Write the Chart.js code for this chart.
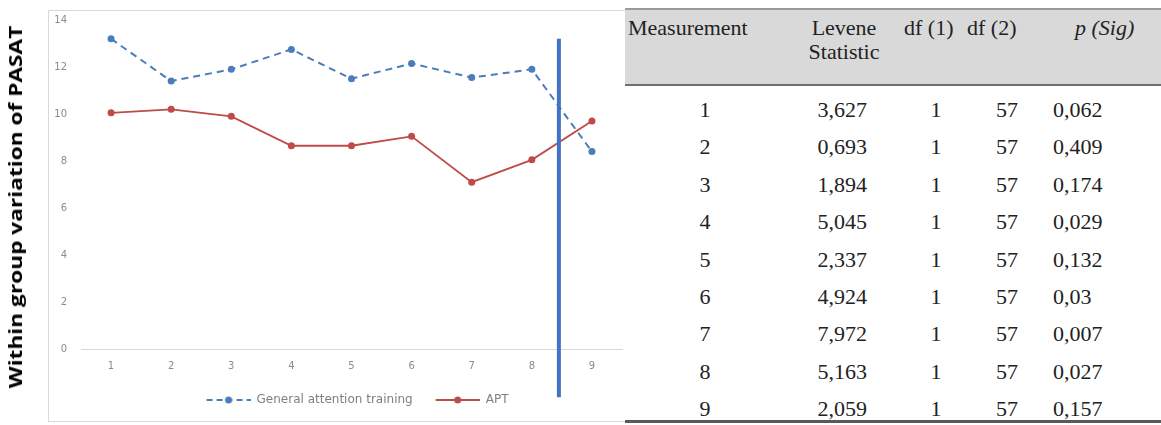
<!DOCTYPE html>
<html>
<head>
<meta charset="utf-8">
<script src="https://cdn.jsdelivr.net/npm/chart.js@4.4.0/dist/chart.umd.min.js"></script>
<style>
  html, body { margin: 0; padding: 0; background: #fff; }
  body { width: 1161px; height: 425px; position: relative; overflow: hidden; }
  #frame { position: absolute; left: 48px; top: 10px; width: 640px; height: 410px; border: 1px solid #d9d9d9; }
  #wrap { position: absolute; left: 0; top: 0; width: 626px; height: 425px; }
  #ytitle { position: absolute; left: 15px; top: 207px; transform: translate(-50%, -50%) rotate(-90deg) scaleX(1.26);
    white-space: nowrap; font: bold 18px "Open Sans", sans-serif; color: #000; }
  #tbl { position: absolute; left: 625px; top: 8px; width: 536px; height: 416px; background: #fff;
    font-family: "Liberation Serif", "Times New Roman", serif; font-size: 22px; color: #222; }
  #head { position: absolute; left: 0; top: 0; width: 100%; height: 74px; background: #d9d9d9;
    border-top: 2px solid #9a9a9a; border-bottom: 2px solid #6f6f6f; }
  #head div, .row div { position: absolute; line-height: 24px; }
  .row { position: absolute; left: 0; width: 100%; height: 37.4px; }
  #bottom { position: absolute; left: 0; top: 412px; width: 100%; height: 3px; background: #5a5a5a; }
</style>
</head>
<body>
<div id="frame"></div>
<div id="wrap"><canvas id="lineChart" width="626" height="425"></canvas></div>
<div id="ytitle">Within group variation of PASAT</div>
<div id="tbl">
  <div id="head">
    <div style="left:3px;top:6px">Measurement</div>
    <div style="left:180px;top:6px;text-align:center;width:78px">Levene<br>Statistic</div>
    <div style="left:279px;top:6px">df (1)</div>
    <div style="left:342px;top:6px">df (2)</div>
    <div style="left:450px;top:6px;font-style:italic">p (Sig)</div>
  </div>
  <div id="rows"></div>
  <div id="bottom"></div>
</div>

<script>
// ----------- Within group variation chart + Levene table -------------

var measurements = ["1", "2", "3", "4", "5", "6", "7", "8", "9"];
var generalAttention = [13.2, 11.4, 11.9, 12.75, 11.5, 12.15, 11.55, 11.9, 8.4];
var aptValues = [10.05, 10.2, 9.9, 8.65, 8.65, 9.05, 7.1, 8.05, 9.7];
var yTicks = [0, 2, 4, 6, 8, 10, 12, 14];

// vertical marker between measurement 8 and 9
var markerIndex = 7.45;
var markerTop = 13.2;
var markerBottom = -2.05;

// Levene table
var leveneStat = ["3,627", "0,693", "1,894", "5,045", "2,337", "4,924", "7,972", "5,163", "2,059"];
var df1 = ["1", "1", "1", "1", "1", "1", "1", "1", "1"];
var df2 = ["57", "57", "57", "57", "57", "57", "57", "57", "57"];
var pSig = ["0,062", "0,409", "0,174", "0,029", "0,132", "0,03", "0,007", "0,027", "0,157"];

var blue = "#4a7ebb";
var red = "#be4b48";

// build table rows
var rowsEl = document.getElementById('rows');
measurements.forEach(function (m, i) {
    var r = document.createElement('div');
    r.className = 'row';
    r.style.top = (80 + i * 37.4) + 'px';
    r.innerHTML =
        '<div style="left:60px;top:10px;width:40px;text-align:center">' + m + '</div>' +
        '<div style="left:160px;top:10px;width:82px;text-align:right">' + leveneStat[i] + '</div>' +
        '<div style="left:296px;top:10px;width:30px;text-align:center">' + df1[i] + '</div>' +
        '<div style="left:350px;top:10px;width:43px;text-align:right">' + df2[i] + '</div>' +
        '<div style="left:428px;top:10px">' + pSig[i] + '</div>';
    rowsEl.appendChild(r);
});

// legend symbol: line with a dot, like the spreadsheet legend (left margin = gap to previous item)
function legendSymbol(color, dashed) {
    var c = document.createElement('canvas');
    c.width = 56; c.height = 10;
    var g = c.getContext('2d');
    g.strokeStyle = color;
    g.lineWidth = 2;
    if (dashed) g.setLineDash([6, 4]);
    g.beginPath(); g.moveTo(12, 5); g.lineTo(56, 5); g.stroke();
    g.setLineDash([]);
    g.fillStyle = color;
    g.beginPath(); g.arc(34, 5, 3.5, 0, Math.PI * 2); g.fill();
    return c;
}

var markerLine = {
    id: 'markerLine',
    afterDatasetsDraw: function (chart) {
        var x = chart.scales.x.getPixelForValue(markerIndex);
        var y1 = chart.scales.y.getPixelForValue(markerTop);
        var y2 = chart.scales.y.getPixelForValue(markerBottom);
        var ctx = chart.ctx;
        ctx.save();
        ctx.strokeStyle = "#4472c4";
        ctx.lineWidth = 4;
        ctx.beginPath(); ctx.moveTo(x, y1); ctx.lineTo(x, y2); ctx.stroke();
        ctx.restore();
    }
};

var ctx = document.getElementById("lineChart").getContext('2d');
var myLineChart = new Chart(ctx, {
    type: 'line',
    data: {
        labels: measurements,
        datasets: [{
            label: "General attention training",
            data: generalAttention,
            borderColor: blue,
            backgroundColor: blue,
            borderWidth: 2,
            borderDash: [7, 5],
            pointRadius: 3.5,
            pointBackgroundColor: blue,
            pointBorderWidth: 0,
            tension: 0
        }, {
            label: "APT",
            data: aptValues,
            borderColor: red,
            backgroundColor: red,
            borderWidth: 1.8,
            pointRadius: 3.5,
            pointBackgroundColor: red,
            pointBorderWidth: 0,
            tension: 0
        }]
    },
    options: {
        responsive: false,
        animation: false,
        layout: { padding: { top: 18, right: 0, bottom: 9, left: 0 } },
        plugins: {
            tooltip: { enabled: false },
            legend: {
                position: 'bottom',
                fullSize: false,
                labels: {
                    usePointStyle: true,
                    pointStyleWidth: 56,
                    color: '#7f7f7f',
                    font: { family: 'DejaVu Sans', size: 12 },
                    padding: 11,
                    generateLabels: function (chart) {
                        return chart.data.datasets.map(function (ds, i) {
                            return {
                                text: ds.label,
                                pointStyle: legendSymbol(ds.borderColor, i === 0),
                                fontColor: '#7f7f7f',
                                lineWidth: 0,
                                datasetIndex: i
                            };
                        });
                    }
                }
            }
        },
        scales: {
            x: {
                offset: true,
                grid: { display: false, drawTicks: false },
                border: { display: true, color: '#d9d9d9', width: 1 },
                ticks: { color: '#8c8c8c', font: { family: 'DejaVu Sans', size: 10 }, padding: 11 }
            },
            y: {
                min: 0,
                max: 14,
                afterBuildTicks: function (scale) {
                    scale.ticks = yTicks.map(function (v) { return { value: v }; });
                },
                afterFit: function (scale) { scale.width = 81; },
                grid: { display: false, drawTicks: false },
                border: { display: false },
                ticks: { color: '#8c8c8c', font: { family: 'DejaVu Sans', size: 10 }, padding: 14 }
            }
        }
    },
    plugins: [markerLine]
});
</script>
</body>
</html>
